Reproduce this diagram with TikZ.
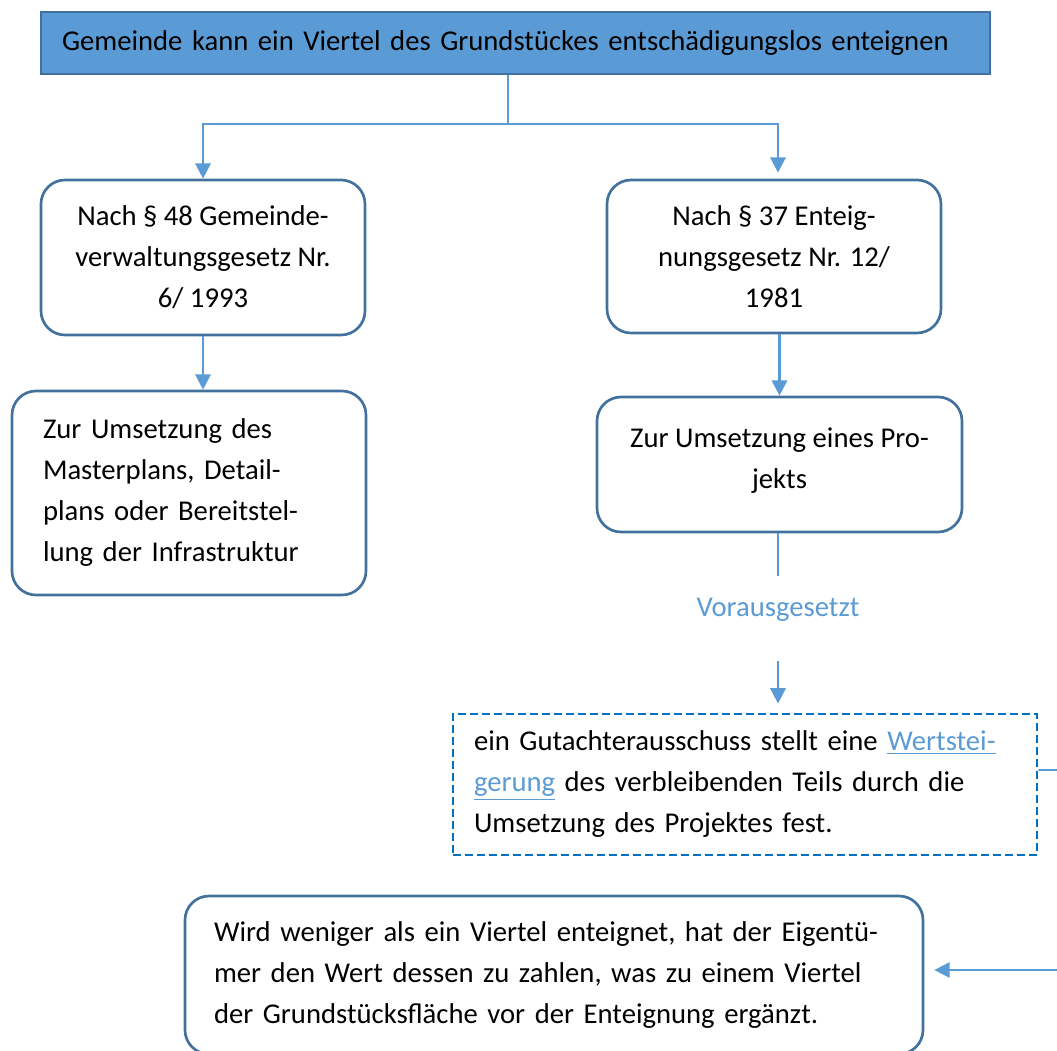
\documentclass[tikz,border=0pt]{standalone}
\usepackage{fontspec}
\setmainfont{Carlito}
\usetikzlibrary{arrows.meta}
\definecolor{boxline}{HTML}{41719C}
\definecolor{flow}{HTML}{5B9BD5}
\definecolor{dashblue}{HTML}{0070C0}
\begin{document}
\begin{tikzpicture}[x=0.75pt,y=-0.75pt,
  txt/.style={font=\fontsize{21.5pt}{30.75pt}\selectfont},
  rbox/.style={txt, draw=boxline, line width=2pt, rounded corners=18pt, inner sep=0pt, align=center},
  conn/.style={draw=flow, line width=1.8pt},
  tip/.style={-{Triangle[width=11.5pt,length=11.5pt]}},
]
\useasboundingbox (0,0) rectangle (1057,1050);
\clip (0,0) rectangle (1057,1050);

% header
\node[txt, draw=boxline, fill=flow, line width=1.7pt, minimum width=711.75pt, minimum height=46.5pt,
      text width=680.25pt, align=left, inner xsep=15.75pt, inner ysep=0pt] (top) at (515.5,43)
  {Gemeinde kann ein Viertel des Grundstückes entschädigungslos enteignen};

% left branch
\node[rbox, minimum width=243pt, minimum height=116.25pt] (lb1) at (203,257.5)
  {Nach § 48 Gemeinde-\\verwaltungsgesetz Nr.\\6/ 1993};
\node[rbox, minimum width=265.5pt, minimum height=153pt, text width=219pt, inner xsep=23.25pt, align=left] (lb2) at (189,493)
  {Zur Umsetzung des\\Masterplans, Detail-\\plans oder Bereitstel-\\lung der Infrastruktur};

% right branch
\node[rbox, minimum width=250.5pt, minimum height=114.75pt] (rb1) at (774,256.5)
  {Nach § 37 Enteig-\\nungsgesetz Nr. 12/\\1981};
\node[rbox, minimum width=273.75pt, minimum height=101.25pt] (rb2) at (779.5,464.5)
  {Zur Umsetzung eines Pro-\\jekts\rule[-9pt]{0pt}{0pt}};
\node[txt, text=flow] (vor) at (778,610) {Vorausgesetzt};
\node[txt, draw=dashblue, line width=2.2pt, dash pattern=on 6pt off 3pt, minimum width=438pt, minimum height=105.75pt,
      text width=406.5pt, inner xsep=15.75pt, inner ysep=0pt, align=left] (dash) at (745,784.5)
  {ein Gutachterausschuss stellt eine \textcolor{flow}{\underline{Wertstei-}}\\\textcolor{flow}{\underline{gerung}} des verbleibenden Teils durch die\\Umsetzung des Projektes fest.};

% result
\node[rbox, minimum width=553.5pt, minimum height=118.5pt, text width=510pt, inner xsep=21.75pt, align=left] (bot) at (554,975)
  {Wird weniger als ein Viertel enteignet, hat der Eigentü-\\mer den Wert dessen zu zahlen, was zu einem Viertel\\der Grundstücksfläche vor der Enteignung ergänzt.};

% connectors
\draw[conn] ([xshift=-5.6pt]top.south) -- ++(0,49) coordinate (split);
\draw[conn,tip] (split) -| (lb1.north);
\draw[conn,tip] (split) -| ([xshift=3pt,yshift=4.5pt]rb1.north);
\draw[conn,tip] (lb1.south) -- (lb1.south |- lb2.north);
\draw[conn,tip] (rb2.north |- rb1.south) -- (rb2.north);
\coordinate (c1) at (778,576);
\coordinate (c2) at (778,661);
\draw[conn] (rb2.south -| c1) -- (c1);
\draw[conn,tip] (c2) -- ([yshift=6.75pt]c2 |- dash.north);
\coordinate (loop) at (1075,770);
\draw[conn,line width=1.4pt,tip] ([yshift=10.9pt]dash.east) -- (loop) |- ([xshift=7.5pt,yshift=3.75pt]bot.east);
\end{tikzpicture}
\end{document}
